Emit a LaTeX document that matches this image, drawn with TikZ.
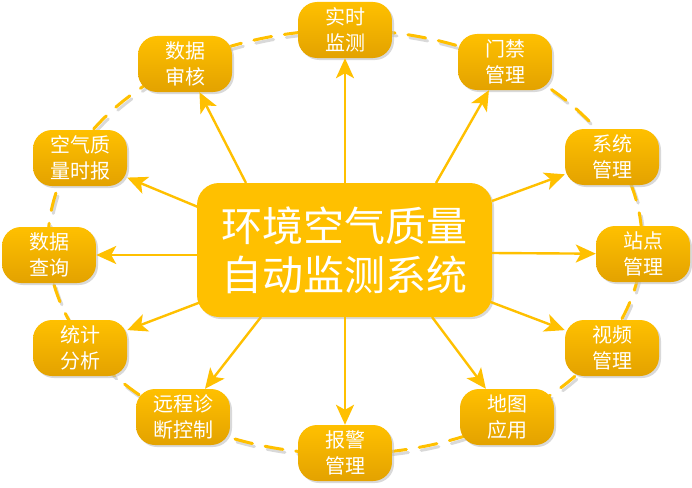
\documentclass[tikz,border=0pt]{standalone}
\usepackage{fontspec}
\setmainfont{Liberation Serif}
\newfontfamily\cjk{Noto Sans CJK SC}
\usetikzlibrary{arrows.meta,shadows}
\definecolor{gold}{HTML}{FFC000}
\definecolor{golddark}{HTML}{E3A200}
\tikzset{
  sub/.style={rounded corners=19pt, minimum width=94pt, minimum height=56pt,
    top color=gold, bottom color=golddark, draw=none, text=white,
    font=\cjk\fontsize{20}{26}\selectfont, align=center, inner sep=0pt,
    drop shadow={shadow xshift=2pt, shadow yshift=-2pt, fill=black!25, opacity=0.6}},
  hub/.style={rounded corners=22pt, minimum width=295pt, minimum height=134pt,
    fill=gold, draw=none, text=white, font=\cjk\fontsize{41}{49}\selectfont,
    align=center, inner sep=0pt,
    drop shadow={shadow xshift=2pt, shadow yshift=-2pt, fill=black!25, opacity=0.6}},
  link/.style={draw=gold, line width=2.4pt,
    -{Stealth[length=20pt,width=18pt,inset=5pt]}},
  ring/.style={draw=gold, line width=3pt, dash pattern=on 18pt off 13pt, line cap=round}
}
\begin{document}
\begin{tikzpicture}[x=1pt,y=-1pt]
\useasboundingbox (0,0) rectangle (692,487);
% dashed ellipse with faint shadow
\draw[black!15, line width=3pt, dash pattern=on 18pt off 13pt, line cap=round] (347,245) ellipse [x radius=297, y radius=212];
\draw[ring] (345,242) ellipse [x radius=297, y radius=212];

\node[hub] (hub) at (344.5,250) {环境空气质量\\自动监测系统};

\node[sub] (n1)  at (345,30)  {实时\\监测};
\node[sub] (n2)  at (505,62)  {门禁\\管理};
\node[sub] (n3)  at (612,157) {系统\\管理};
\node[sub] (n4)  at (643,254) {站点\\管理};
\node[sub] (n5)  at (612,348) {视频\\管理};
\node[sub] (n6)  at (507,417) {地图\\应用};
\node[sub] (n7)  at (345,453) {报警\\管理};
\node[sub] (n8)  at (183,417) {远程诊\\断控制};
\node[sub] (n9)  at (80,348)  {统计\\分析};
\node[sub] (n10) at (49,255)  {数据\\查询};
\node[sub] (n11) at (80,158)  {空气质\\量时报};
\node[sub] (n12) at (185,64)  {数据\\审核};

% start points on the hub border
\coordinate (s1)  at (345,183);
\coordinate (s2)  at (436,183);
\coordinate (s3)  at (492,201);
\coordinate (s4)  at (492,253);
\coordinate (s5)  at (488,301);
\coordinate (s6)  at (432,317);
\coordinate (s7)  at (345,317);
\coordinate (s8)  at (261,317);
\coordinate (s9)  at (201,302);
\coordinate (s10) at (197,255);
\coordinate (s11) at (198,207);
\coordinate (s12) at (246,183);

\draw[link] (s1) -- (n1);
\draw[link] (s2) -- (n2);
\draw[link] (s3) -- (n3);
\draw[link] (s4) -- (n4);
\draw[link] (s5) -- (n5);
\draw[link] (s6) -- (n6);
\draw[link] (s7) -- (n7);
\draw[link] (s8) -- (n8);
\draw[link] (s9) -- (n9);
\draw[link] (s10) -- (n10);
\draw[link] (s11) -- (n11);
\draw[link] (s12) -- (n12);
\end{tikzpicture}
\end{document}
